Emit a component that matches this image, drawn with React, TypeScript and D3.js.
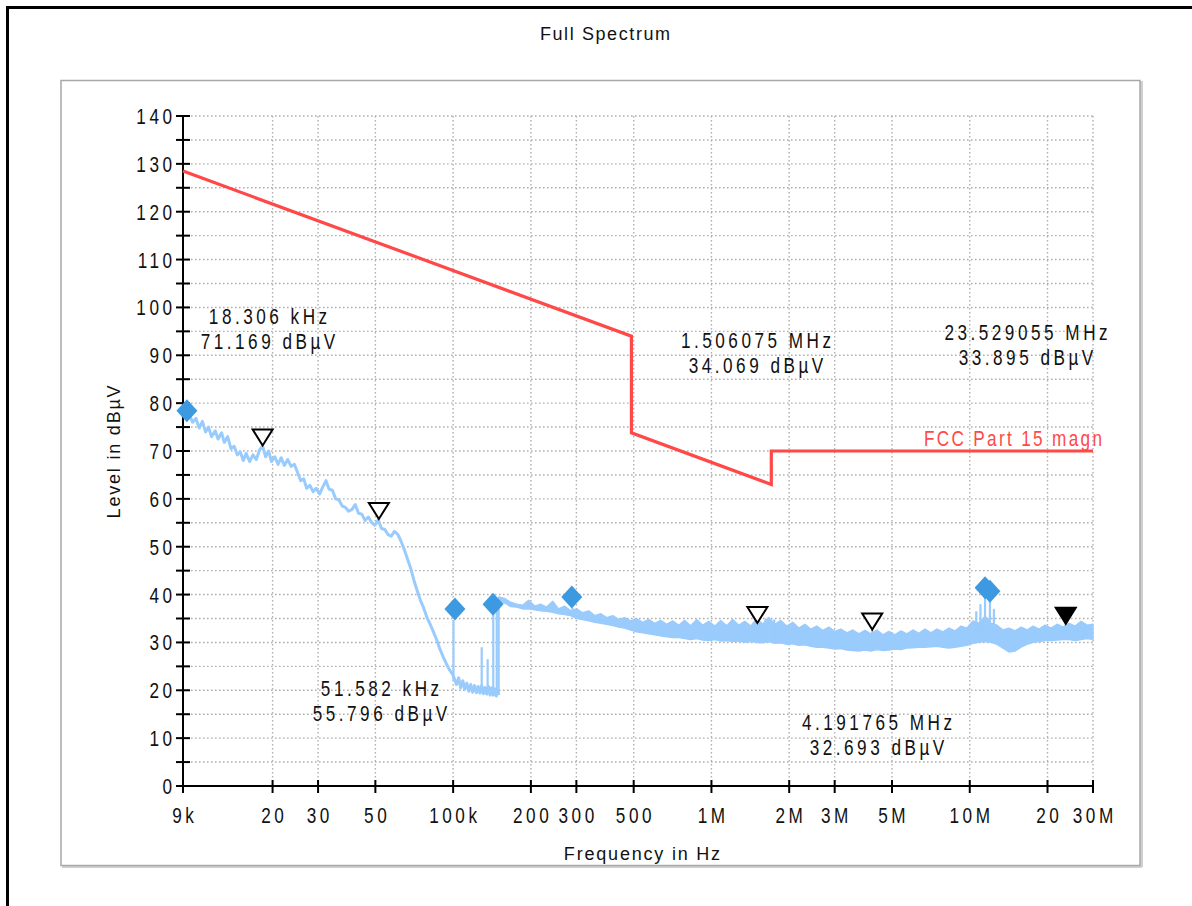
import React from "react";
import * as d3 from "d3";

// ---------- DATA ----------
const xTickValues = [9e3, 2e4, 3e4, 5e4, 1e5, 2e5, 3e5, 5e5, 1e6, 2e6, 3e6, 5e6, 1e7, 2e7, 3e7];
const xTickLabels = ["9k", "20", "30", "50", "100k", "200", "300", "500", "1M", "2M", "3M", "5M", "10M", "20", "30M"];
const yMajorTicks = [0, 10, 20, 30, 40, 50, 60, 70, 80, 90, 100, 110, 120, 130, 140];
const yMinorTicks = [5, 15, 25, 35, 45, 55, 65, 75, 85, 95, 105, 115, 125, 135];

// FCC limit line
const limitFreq = [9e3, 490e3, 490e3, 1.705e6, 1.705e6, 30e6];
const limitLevel = [128.5, 94.0, 73.8, 63.0, 70.0, 70.0];
const limitName = "FCC Part 15 magn";

// Low-band trace (9 kHz – 150 kHz), kHz / dBµV
const lowFreqKHz = [
  9.0, 9.2, 9.5, 9.8, 10.1, 10.4, 10.7, 11.0, 11.3, 11.6, 12.0, 12.3, 12.7, 13.0, 13.4, 13.8, 14.2, 14.6, 15.0, 15.4,
  15.8, 16.3, 16.8, 17.3, 17.8, 18.3, 18.8, 19.3, 19.8, 20.4, 21.0, 21.6, 22.2, 22.9, 23.6, 24.3, 25.0, 25.7, 26.4, 27.1,
  27.9, 28.7, 29.5, 30.4, 31.3, 32.2, 33.1, 34.1, 35.1, 36.1, 37.2, 38.3, 39.4, 40.6, 41.8, 43.0, 44.3, 45.6, 47.0, 48.4,
  49.8, 51.3, 52.8, 54.4, 56.0, 57.6, 59.3, 61.0, 62.8, 64.6, 66.5, 68.5, 70.5, 72.6, 74.7, 76.9, 79.2, 81.5, 83.9, 86.4,
  88.9, 91.5, 94.2, 97.0, 99.9, 103, 105, 107, 109, 111, 113, 115, 117, 119, 121, 123, 125, 127, 129, 131,
  133, 135, 137, 139, 141, 143, 145, 147, 149, 150,
];
const lowLevel = [
  78.5, 77.0, 77.8, 76.0, 76.8, 74.8, 76.2, 74.0, 75.0, 73.0, 74.2, 72.5, 73.8, 71.8, 73.0, 70.5, 71.0, 69.2, 69.8, 68.0,
  69.5, 67.8, 69.2, 68.2, 70.2, 71.0, 68.8, 70.0, 67.8, 68.8, 67.2, 68.6, 67.0, 68.2, 66.8, 67.2, 65.5, 63.8, 64.2, 62.2,
  62.8, 61.5, 62.2, 61.0, 62.5, 63.8, 62.0, 61.8, 60.0, 59.8, 58.5, 58.2, 57.4, 57.8, 58.8, 57.0, 56.8, 55.5, 56.2, 55.0,
  54.5, 55.6, 53.8, 53.6, 52.5, 52.2, 53.2, 52.6, 51.2, 49.5, 47.5, 45.5, 43.0, 40.8, 38.8, 37.2, 35.2, 33.8, 32.2, 30.5,
  28.6, 27.0, 25.5, 24.2, 23.2, 21.2, 22.6, 20.5, 22.0, 20.2, 21.5, 19.8, 21.2, 19.6, 21.0, 19.5, 20.8, 19.4, 21.0, 19.3,
  20.6, 19.2, 20.8, 19.0, 20.5, 19.0, 20.3, 18.8, 20.0, 19.0,
];

// High-band trace (150 kHz – 30 MHz) envelope, kHz / dBµV
const bandFreqKHz = [
  150, 158, 167, 176, 186, 196, 207, 218, 230, 243, 256, 270, 285, 301, 317, 335, 353, 373, 393, 415,
  437, 461, 487, 513, 542, 571, 603, 636, 671, 708, 747, 788, 831, 877, 925, 976, 1030, 1086, 1146, 1209,
  1276, 1346, 1420, 1498, 1580, 1667, 1759, 1856, 1958, 2065, 2179, 2299, 2425, 2558, 2699, 2848, 3004, 3170, 3344, 3528,
  3722, 3927, 4143, 4370, 4611, 4864, 5132, 5414, 5712, 6026, 6357, 6707, 7076, 7465, 7876, 8309, 8766, 9248, 9756, 10293,
  10859, 11456, 12086, 12751, 13452, 14192, 14973, 15796, 16665, 17582, 18549, 19569, 20645, 21781, 22979, 24243, 25576, 26983, 28467, 30000,
];
const bandHigh = [
  39.5, 39.2, 38.4, 38.0, 37.8, 38.8, 37.6, 38.0, 37.4, 38.6, 37.0, 37.6, 36.6, 37.0, 36.2, 36.6, 35.6, 36.0, 35.2, 35.6,
  34.8, 35.2, 34.5, 35.0, 34.2, 34.8, 34.0, 34.6, 33.8, 34.5, 33.6, 34.6, 33.5, 34.8, 33.6, 34.4, 33.4, 34.6, 33.5, 34.8,
  33.6, 34.4, 33.4, 35.0, 33.8, 35.2, 33.8, 34.6, 33.4, 34.2, 33.0, 33.8, 32.8, 33.4, 32.5, 33.2, 32.3, 32.8, 32.0, 32.6,
  31.8, 32.5, 31.8, 32.6, 31.6, 32.3, 31.6, 32.4, 31.8, 32.6, 31.9, 32.8, 32.0, 32.8, 32.2, 33.0, 32.4, 33.4, 33.0, 34.5,
  34.0, 35.5, 34.0, 33.6, 32.6, 33.0, 32.4, 33.2, 32.6, 33.4, 32.8, 33.6, 33.0, 33.8, 33.2, 34.0, 33.4, 34.4, 33.6, 33.8,
];
const bandLow = [
  38.2, 38.3, 37.5, 37.4, 37.0, 37.0, 36.8, 36.6, 36.5, 36.3, 36.0, 35.8, 35.6, 35.0, 34.8, 34.5, 34.2, 34.0, 33.8, 33.5,
  33.2, 33.0, 32.6, 32.2, 32.0, 31.8, 31.6, 31.4, 31.2, 31.0, 31.0, 30.8, 30.6, 30.8, 30.5, 30.4, 30.6, 30.3, 30.4, 30.2,
  30.3, 30.0, 30.2, 30.0, 29.9, 30.2, 29.8, 29.9, 29.6, 29.7, 29.4, 29.5, 29.2, 29.0, 29.0, 28.8, 28.6, 28.7, 28.4, 28.3,
  28.2, 28.4, 28.2, 28.5, 28.3, 28.4, 28.6, 28.5, 28.8, 28.9, 29.0, 29.0, 29.1, 29.2, 29.0, 28.8, 29.0, 29.2, 29.4, 29.8,
  30.0, 30.2, 30.0, 29.6, 28.8, 28.0, 28.2, 29.0, 29.6, 30.0, 30.2, 30.4, 30.4, 30.5, 30.6, 30.6, 30.4, 30.6, 30.8, 30.6,
];

// Narrow spikes, kHz / base dBµV / top dBµV
const spikeFreqKHz = [100.3, 129, 136, 143, 147.5, 150, 290, 1506, 1620, 1750, 4192, 10600, 11000, 11460, 11970, 12400, 23529];
const spikeBase = [22, 20, 20, 20, 19.5, 19, 35.5, 30.5, 30.5, 30.5, 29, 31, 31, 32, 32, 31, 31];
const spikeTop = [34.7, 29, 26.5, 37.5, 37, 38.5, 37.2, 34.2, 35, 34.8, 33, 36.5, 38, 41, 39.5, 37, 34.5];

// Peak markers (diamonds)
const peakFreqKHz = [9.32, 101.6, 142.7, 288, 11460, 11970];
const peakLevel = [78.4, 37.0, 38.0, 39.5, 41.4, 40.7];

// Marker triangles
const markerFreqKHz = [18.306, 51.582, 1506.075, 4191.765, 23529.055];
const markerLevel = [71.169, 55.796, 34.069, 32.693, 33.895];
const markerFilled = [false, false, false, false, true];
const markerFreqText = ["18.306 kHz", "51.582 kHz", "1.506075 MHz", "4.191765 MHz", "23.529055 MHz"];
const markerLevelText = ["71.169 dBµV", "55.796 dBµV", "34.069 dBµV", "32.693 dBµV", "33.895 dBµV"];

// ---------- LAYOUT ----------
const W = 1192;
const H = 906;
const PL = 183, PR = 1093, PT = 116, PB = 786;
// annotation block centres / first baselines (layout only)
const annotPos = [
  [268, 324],
  [380, 696],
  [756, 348],
  [877, 730],
  [1026, 340],
];

const FONT = "'Liberation Sans', Arial, sans-serif";
const TRACE = "#99cbfc";
const RED = "#ff4848";
const DIAMOND = "#3e9ae0";

function T({ x, y, children, anchor = "middle", size = 22, sx = 0.78, ls = 4.5, fill = "#111", rotate = 0 }: any) {
  const shift = anchor === "middle" ? (ls * sx) / 2 : anchor === "end" ? ls * sx : 0;
  return (
    <text
      transform={`translate(${x + shift},${y}) rotate(${rotate}) scale(${sx},1)`}
      textAnchor={anchor}
      fontSize={size}
      letterSpacing={ls}
      fill={fill}
      fontFamily={FONT}
    >
      {children}
    </text>
  );
}

export default function App() {
  const x = d3.scaleLog().domain([9e3, 3e7]).range([PL, PR]);
  const y = d3.scaleLinear().domain([0, 140]).range([PB, PT]);

  const limitPath = d3
    .line<number>()
    .x((i) => x(limitFreq[i]))
    .y((i) => y(limitLevel[i]))(limitFreq.map((_, i) => i)) as string;

  const lowPath = d3
    .line<number>()
    .x((i) => x(lowFreqKHz[i] * 1e3))
    .y((i) => y(lowLevel[i]))(lowFreqKHz.map((_, i) => i)) as string;

  const bandPath = d3
    .area<number>()
    .x((i) => x(bandFreqKHz[i] * 1e3))
    .y0((i) => y(bandLow[i]))
    .y1((i) => y(bandHigh[i]))(bandFreqKHz.map((_, i) => i)) as string;

  const gridY = [...yMinorTicks, ...yMajorTicks.filter((v) => v > 0)];

  return (
    <svg width={W} height={H} style={{ position: "absolute", left: 0, top: 0, background: "#fff" }}>
      <rect x={0} y={0} width={W} height={H} fill="#fff" />
      {/* outer frame */}
      <rect x={7.5} y={7.5} width={W + 50} height={H + 50} fill="none" stroke="#000" strokeWidth={3} />
      {/* panel */}
      <line x1={62} y1={866.5} x2={1142} y2={866.5} stroke="#d0d0d0" strokeWidth={3} />
      <line x1={1141.5} y1={81} x2={1141.5} y2={867} stroke="#d0d0d0" strokeWidth={3} />
      <rect x={61} y={80.5} width={1079} height={785} fill="#fff" stroke="#a8a8a8" strokeWidth={1.5} />

      <T x={605} y={40} size={18} sx={1} ls={1.6}>Full Spectrum</T>

      {/* grid */}
      <g stroke="#b0b0b0" strokeWidth={1.4} strokeDasharray="1.6 2.4">
        {gridY.map((v) => (
          <line key={"gy" + v} x1={PL} x2={PR} y1={y(v)} y2={y(v)} />
        ))}
        {xTickValues.slice(1).map((v) => (
          <line key={"gx" + v} x1={x(v)} x2={x(v)} y1={PT} y2={PB} />
        ))}
      </g>

      {/* axes */}
      <line x1={PL} x2={PL} y1={PT} y2={PB} stroke="#000" strokeWidth={2} />
      <line x1={PL} x2={PR} y1={PB} y2={PB} stroke="#000" strokeWidth={2} />
      {[...yMajorTicks, ...yMinorTicks].map((v) => (
        <line key={"yt" + v} x1={PL - 7} x2={PL + 7} y1={y(v)} y2={y(v)} stroke="#000" strokeWidth={2} />
      ))}
      {yMajorTicks.map((v) => (
        <T key={"yl" + v} x={172} y={y(v) + 8} anchor="end">
          {String(v)}
        </T>
      ))}
      {xTickValues.map((v, i) => (
        <g key={"xt" + v}>
          <line x1={x(v)} x2={x(v)} y1={PB - 6} y2={PB + 7} stroke="#000" strokeWidth={2} />
          <T x={x(v)} y={823}>
            {xTickLabels[i]}
          </T>
        </g>
      ))}
      <T x={642} y={860} size={18} sx={1} ls={1.8}>Frequency in Hz</T>
      <T x={119} y={451} size={18} sx={1} ls={1.8} rotate={-90}>Level in dBµV</T>

      {/* limit line */}
      <path d={limitPath} fill="none" stroke={RED} strokeWidth={3.2} />
      <T x={1102} y={446} anchor="end" fill={RED} sx={0.78} ls={3}>
        {limitName}
      </T>

      {/* spectrum */}
      <path d={bandPath} fill={TRACE} stroke={TRACE} strokeWidth={1.4} strokeLinejoin="round" />
      <path d={lowPath} fill="none" stroke={TRACE} strokeWidth={3} strokeLinejoin="round" />
      {spikeFreqKHz.map((f, i) => (
        <line
          key={"sp" + i}
          x1={x(f * 1e3)}
          x2={x(f * 1e3)}
          y1={y(spikeBase[i])}
          y2={y(spikeTop[i])}
          stroke={TRACE}
          strokeWidth={2.2}
        />
      ))}

      {/* peak diamonds */}
      {peakFreqKHz.map((f, i) => {
        const cx = x(f * 1e3);
        const cy = y(peakLevel[i]);
        return (
          <polygon
            key={"pk" + i}
            points={`${cx},${cy - 11.5} ${cx + 10.5},${cy} ${cx},${cy + 11.5} ${cx - 10.5},${cy}`}
            fill={DIAMOND}
          />
        );
      })}

      {/* marker triangles */}
      {markerFreqKHz.map((f, i) => {
        const cx = x(f * 1e3);
        const ty = y(markerLevel[i]);
        return (
          <polygon
            key={"mk" + i}
            points={`${cx},${ty} ${cx - 10},${ty - 16} ${cx + 10},${ty - 16}`}
            fill={markerFilled[i] ? "#000" : "#fff"}
            stroke="#000"
            strokeWidth={2}
            strokeLinejoin="miter"
          />
        );
      })}

      {/* marker annotations */}
      {markerFreqText.map((t, i) => (
        <g key={"an" + i}>
          <T x={annotPos[i][0]} y={annotPos[i][1]}>
            {t}
          </T>
          <T x={annotPos[i][0]} y={annotPos[i][1] + 25}>
            {markerLevelText[i]}
          </T>
        </g>
      ))}
    </svg>
  );
}
